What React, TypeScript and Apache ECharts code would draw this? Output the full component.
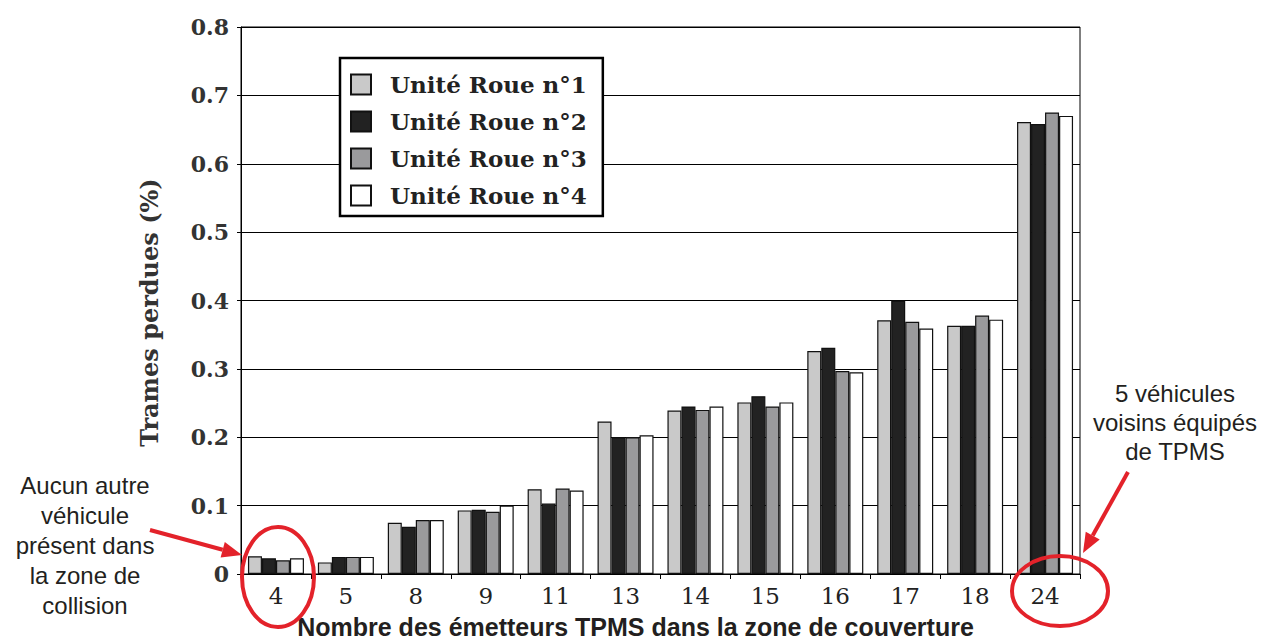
import React, { useEffect, useRef } from "react";
import * as echarts from "echarts";

const categories = ["4", "5", "8", "9", "11", "13", "14", "15", "16", "17", "18", "24"];
const seriesNames = ["Unité Roue n°1", "Unité Roue n°2", "Unité Roue n°3", "Unité Roue n°4"];
const unit1 = [0.026, 0.017, 0.075, 0.093, 0.124, 0.223, 0.239, 0.251, 0.326, 0.371, 0.363, 0.661];
const unit2 = [0.023, 0.025, 0.069, 0.094, 0.103, 0.2, 0.245, 0.26, 0.331, 0.4, 0.363, 0.658];
const unit3 = [0.02, 0.025, 0.079, 0.091, 0.125, 0.2, 0.24, 0.245, 0.297, 0.369, 0.378, 0.675];
const unit4 = [0.023, 0.025, 0.079, 0.1, 0.122, 0.203, 0.245, 0.251, 0.295, 0.359, 0.372, 0.67];
const seriesColors = ["#c9c9c9", "#222222", "#9a9a9c", "#ffffff"];
const yTicks = { min: 0, max: 0.8, interval: 0.1 };

const leftNote = "Aucun autre\nvéhicule\nprésent dans\nla zone de\ncollision";
const rightNote = "5 véhicules\nvoisins équipés\nde TPMS";
const RED = "#e3222a";

function arrow(x1: number, y1: number, x2: number, y2: number) {
  const ang = Math.atan2(y2 - y1, x2 - x1);
  const len = 20;
  const half = 8;
  const bx = x2 - len * Math.cos(ang);
  const by = y2 - len * Math.sin(ang);
  const px = -Math.sin(ang) * half;
  const py = Math.cos(ang) * half;
  return [
    {
      type: "line",
      z: 100,
      shape: { x1, y1, x2: bx, y2: by },
      style: { stroke: RED, lineWidth: 4 },
    },
    {
      type: "polygon",
      z: 100,
      shape: { points: [[x2, y2], [bx + px, by + py], [bx - px, by - py]] },
      style: { fill: RED },
    },
  ];
}

export default function App() {
  const ref = useRef<HTMLDivElement>(null);
  useEffect(() => {
    if (!ref.current) return;
    const chart = echarts.init(ref.current, undefined, { renderer: "svg" });
    const data = [unit1, unit2, unit3, unit4];
    chart.setOption({
      animation: false,
      backgroundColor: "#ffffff",
      grid: {
        left: 241,
        right: 192,
        top: 27,
        bottom: 65,
        show: true,
        borderColor: "#000",
        borderWidth: 1,
        containLabel: false,
        outerBoundsMode: "none",
      },
      legend: {
        orient: "vertical",
        left: 340,
        top: 58,
        data: seriesNames,
        icon: "rect",
        itemWidth: 20,
        itemHeight: 20,
        itemGap: 14,
        padding: [15, 16, 9, 10],
        backgroundColor: "#ffffff",
        borderColor: "#000",
        borderWidth: 2.5,
        textStyle: {
          fontFamily: "DejaVu Serif",
          fontWeight: "bold",
          fontSize: 23,
          color: "#222",
          padding: [0, 0, 0, 14],
        },
      },
      xAxis: {
        type: "category",
        data: categories,
        name: "Nombre des émetteurs TPMS dans la zone de couverture",
        nameLocation: "middle",
        nameGap: 40,
        nameTextStyle: {
          fontFamily: "Liberation Sans",
          fontWeight: "bold",
          fontSize: 25,
          color: "#231f20",
          padding: [0, 50, 0, 0],
        },
        axisLine: { lineStyle: { color: "#000", width: 1 } },
        axisTick: { show: true, length: 5, lineStyle: { color: "#000" } },
        axisLabel: {
          fontFamily: "DejaVu Serif",
          fontSize: 23,
          color: "#222",
          margin: 10,
        },
      },
      yAxis: {
        type: "value",
        min: yTicks.min,
        max: yTicks.max,
        interval: yTicks.interval,
        name: "Trames perdues (%)",
        nameLocation: "middle",
        nameGap: 80,
        nameTextStyle: {
          fontFamily: "DejaVu Serif",
          fontWeight: "bold",
          fontSize: 24,
          color: "#333",
          padding: [0, 24, 0, 0],
        },
        axisLine: { show: true, lineStyle: { color: "#000", width: 1 } },
        axisTick: { show: true, length: 4, lineStyle: { color: "#000" } },
        axisLabel: {
          fontFamily: "DejaVu Serif",
          fontWeight: "bold",
          fontSize: 22,
          color: "#333",
          margin: 12,
        },
        splitLine: { show: true, lineStyle: { color: "#000", width: 1.2 } },
      },
      series: seriesNames.map((name, i) => ({
        name,
        type: "bar",
        data: data[i],
        barWidth: 14,
        barGap: "0%",
        itemStyle: { color: seriesColors[i], borderColor: "#111", borderWidth: 1.2 },
      })),
      graphic: [
        {
          type: "ellipse",
          z: 100,
          shape: { cx: 278, cy: 577, rx: 36, ry: 50 },
          style: { fill: "none", stroke: RED, lineWidth: 4 },
        },
        {
          type: "ellipse",
          z: 100,
          shape: { cx: 1060, cy: 591, rx: 48, ry: 35 },
          style: { fill: "none", stroke: RED, lineWidth: 4 },
        },
        ...arrow(150, 530, 242, 555),
        ...arrow(1128, 472, 1083, 553),
        {
          type: "text",
          z: 100,
          x: 85,
          y: 470,
          style: {
            text: leftNote,
            fill: "#231f20",
            font: "24px 'Liberation Sans'",
            align: "center",
            lineHeight: 30,
          },
        },
        {
          type: "text",
          z: 100,
          x: 1175,
          y: 379,
          style: {
            text: rightNote,
            fill: "#231f20",
            font: "24px 'Liberation Sans'",
            align: "center",
            lineHeight: 29,
          },
        },
      ],
    });
    return () => chart.dispose();
  }, []);
  return (
    <div
      ref={ref}
      style={{ position: "fixed", left: 0, top: 0, width: 1272, height: 639 }}
    />
  );
}
